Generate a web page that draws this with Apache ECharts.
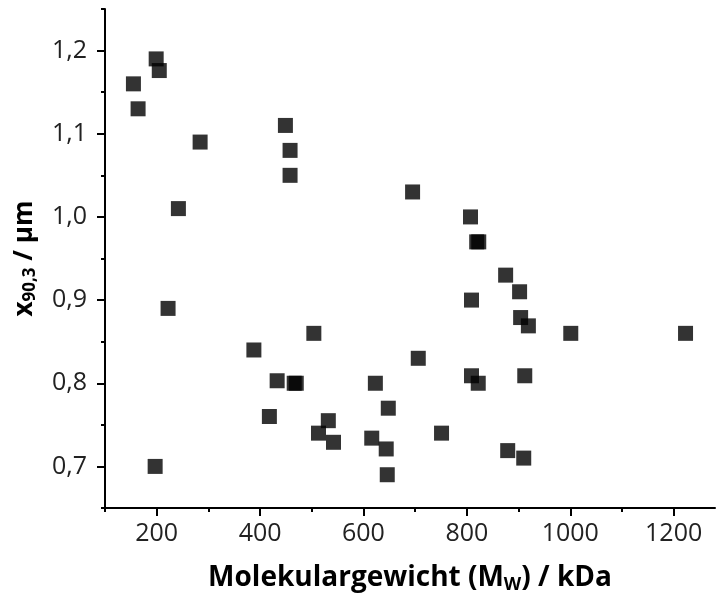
<!DOCTYPE html>
<html>
<head>
<meta charset="utf-8">
<script src="https://cdn.jsdelivr.net/npm/echarts@6/dist/echarts.min.js"></script>
<style>html,body{margin:0;padding:0;background:#fff;}#c{width:716px;height:599px;}</style>
</head>
<body>
<div id="c"></div>
<script>
// Molecular weight (kDa)
const mw = [155, 164, 199, 205, 284, 242, 449, 458, 458, 695, 807, 819, 823, 875, 902, 809, 222, 504, 388, 433, 466, 470, 418, 532, 513, 542, 197, 904, 919, 1001, 1223, 706, 623, 809, 822, 912, 648, 751, 616, 644, 879, 910, 646];
// x90,3 (µm)
const x903 = [1.16, 1.13, 1.19, 1.176, 1.09, 1.01, 1.11, 1.08, 1.05, 1.03, 1.00, 0.97, 0.97, 0.93, 0.91, 0.90, 0.89, 0.86, 0.84, 0.803, 0.80, 0.80, 0.76, 0.755, 0.74, 0.729, 0.70, 0.879, 0.869, 0.86, 0.86, 0.83, 0.80, 0.809, 0.80, 0.809, 0.77, 0.74, 0.734, 0.721, 0.719, 0.71, 0.69];
const xMajorTicks = [200, 400, 600, 800, 1000, 1200];
const xMinorTicks = [100, 300, 500, 700, 900, 1100];
const yMajorTicks = [0.7, 0.8, 0.9, 1.0, 1.1, 1.2];
const yMinorTicks = [0.65, 0.75, 0.85, 0.95, 1.05, 1.15, 1.25];

const FONT = "'Open Sans', 'Noto Sans', sans-serif";
const chart = echarts.init(document.getElementById('c'), null, {renderer: 'canvas'});
const pts = mw.map((v, i) => [v, x903[i]]);

const labelStyle = {fontFamily: FONT, fontSize: 25, color: '#222'};
chart.setOption({
  animation: false,
  backgroundColor: '#fff',
  grid: {left: 105, right: 1, top: 9, bottom: 90, containLabel: false},
  xAxis: [{
    type: 'value', min: 100, max: 1280, position: 'bottom',
    splitLine: {show: false},
    axisLine: {show: true, onZero: false, lineStyle: {color: '#000', width: 2}},
    axisTick: {show: true, customValues: xMajorTicks, length: 8, lineStyle: {color: '#000', width: 2}},
    axisLabel: Object.assign({customValues: xMajorTicks, margin: 13, formatter: v => String(v)}, labelStyle),
    name: '{b|Molekulargewicht (M}{s|W}{b|) / kDa}',
    nameLocation: 'middle', nameGap: 54,
    nameTextStyle: {rich: {
      b: {fontFamily: FONT, fontSize: 28, fontWeight: 'bold', color: '#000'},
      s: {fontFamily: FONT, fontSize: 18, fontWeight: 'bold', color: '#000', padding: [14, 0, 0, 0]}
    }}
  }, {
    type: 'value', min: 100, max: 1280, position: 'bottom', offset: 0,
    splitLine: {show: false},
    axisLine: {show: false, onZero: false},
    axisTick: {show: true, customValues: xMinorTicks, length: 4, lineStyle: {color: '#000', width: 2}},
    axisLabel: {show: false}
  }],
  yAxis: [{
    type: 'value', min: 0.65, max: 1.25, position: 'left',
    splitLine: {show: false},
    axisLine: {show: true, onZero: false, lineStyle: {color: '#000', width: 2}},
    axisTick: {show: true, customValues: yMajorTicks, length: 8, lineStyle: {color: '#000', width: 2}},
    axisLabel: Object.assign({customValues: yMajorTicks, margin: 18, formatter: v => v.toFixed(1).replace('.', ',')}, labelStyle),
    name: '{b|x}{s|90,3}{b| / µm}',
    nameLocation: 'middle', nameGap: 66, nameRotate: 90,
    nameTextStyle: {rich: {
      b: {fontFamily: FONT, fontSize: 26, fontWeight: 'bold', color: '#000'},
      s: {fontFamily: FONT, fontSize: 17, fontWeight: 'bold', color: '#000', padding: [12, 0, 0, 0]}
    }}
  }, {
    type: 'value', min: 0.65, max: 1.25, position: 'left', offset: 0,
    splitLine: {show: false},
    axisLine: {show: false, onZero: false},
    axisTick: {show: true, customValues: yMinorTicks, length: 4, lineStyle: {color: '#000', width: 2}},
    axisLabel: {show: false}
  }],
  series: [{
    type: 'scatter', xAxisIndex: 0, yAxisIndex: 0,
    symbol: 'rect', symbolSize: 15,
    itemStyle: {color: '#000', opacity: 0.8},
    data: pts
  }]
});
</script>
</body>
</html>
